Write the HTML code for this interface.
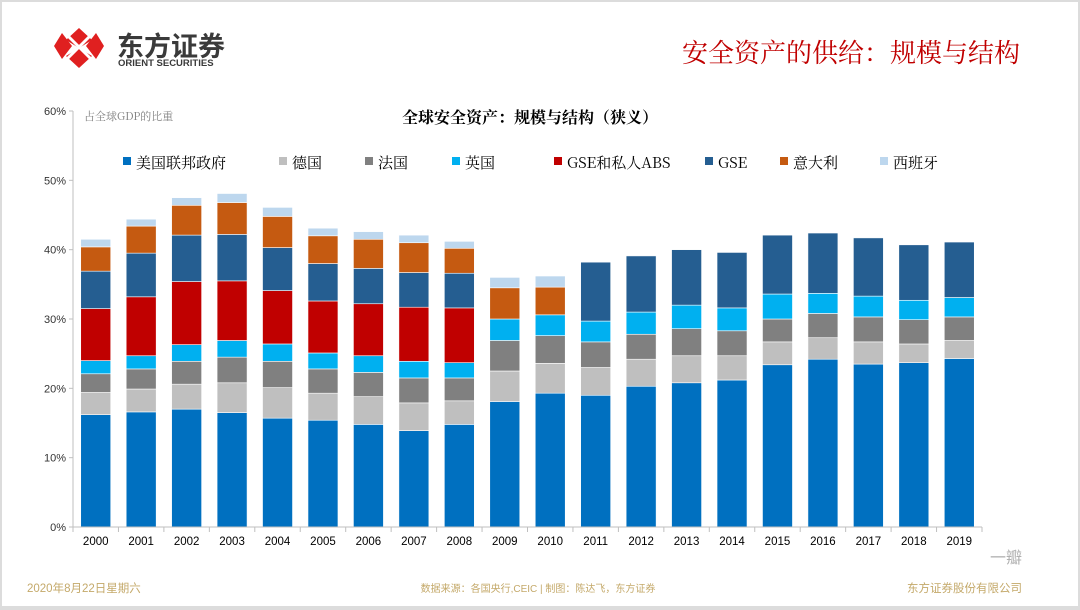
<!DOCTYPE html>
<html><head><meta charset="utf-8">
<style>
html,body{margin:0;padding:0;background:#fff;}
body{width:1080px;height:610px;position:relative;overflow:hidden;font-family:"Liberation Sans","Noto Sans CJK SC",sans-serif;}
.frame{position:absolute;left:0;top:0;width:1076px;height:604px;border:2px solid #dcdcdc;border-bottom-width:4px;}
</style></head>
<body>
<div class="frame"></div>
<svg width="1080" height="610" style="position:absolute;left:0;top:0" id="chart">
  <g>
    <polygon points="79,28 92,40 79,48 66,40" fill="#e02020"/>
    <polygon points="79,56 92,64 79,76 66,64" fill="#e02020" transform="translate(0,-8)"/>
    <polygon points="62,33 72,46 62,59 54,46" fill="#e02020"/>
    <polygon points="96,33 104,46 96,59 86,46" fill="#e02020"/>
    <line x1="66" y1="34" x2="92" y2="60" stroke="#fff" stroke-width="3"/>
    <line x1="92" y1="34" x2="66" y2="60" stroke="#fff" stroke-width="3"/>
    <text x="117" y="56" font-size="27" font-weight="bold" fill="#3a3a3a" font-family="Noto Sans CJK SC, sans-serif">东方证券</text>
    <text x="118" y="66" font-size="9.5" font-weight="bold" fill="#3a3a3a" font-family="Liberation Sans, sans-serif">ORIENT SECURITIES</text>
  </g>
  <text x="1020" y="62" text-anchor="end" font-size="26" fill="#c00000" font-family="Noto Serif CJK SC, serif">安全资产的供给：规模与结构</text>
  <text x="530" y="123" text-anchor="middle" font-size="16" font-weight="bold" fill="#000" font-family="Noto Serif CJK SC, serif">全球安全资产：规模与结构（狭义）</text>
  <text x="84" y="120" font-size="11" fill="#808080" font-family="Noto Serif CJK SC, serif">占全球GDP的比重</text>
  <g id="plot"></g>
  <g id="legend"></g>
  <text x="27" y="592" font-size="11.5" fill="#c4a96a">2020年8月22日星期六</text>
  <text x="538" y="592" text-anchor="middle" font-size="10" fill="#c4a96a">数据来源：各国央行,CEIC | 制图：陈达飞，东方证券</text>
  <text x="1022" y="592" text-anchor="end" font-size="11.5" fill="#c4a96a">东方证券股份有限公司</text>
  <text x="990" y="563" font-size="16" fill="#b0b0b0">一瓣</text>
</svg>
<script>
const years=["2000","2001","2002","2003","2004","2005","2006","2007","2008","2009","2010","2011","2012","2013","2014","2015","2016","2017","2018","2019"];
const seriesNames=["美国联邦政府","德国","法国","英国","GSE和私人ABS","GSE","意大利","西班牙"];
const usFed=[16.2,16.6,17.0,16.5,15.7,15.4,14.8,13.9,14.8,18.1,19.3,19.0,20.3,20.8,21.2,23.4,24.2,23.5,23.7,24.3];
const germany=[3.2,3.3,3.6,4.3,4.4,3.9,4.0,4.0,3.4,4.4,4.3,4.0,3.9,3.9,3.5,3.3,3.1,3.2,2.7,2.6];
const france=[2.7,2.9,3.3,3.7,3.8,3.5,3.5,3.6,3.3,4.4,4.0,3.7,3.6,3.9,3.6,3.3,3.5,3.6,3.5,3.4];
const uk=[1.9,1.9,2.4,2.4,2.5,2.3,2.4,2.4,2.2,3.1,3.0,3.0,3.2,3.4,3.3,3.6,2.9,3.0,2.8,2.8];
const gseAbs=[7.5,8.5,9.1,8.6,7.7,7.5,7.5,7.8,7.9,0,0,0,0,0,0,0,0,0,0,0];
const gse=[5.4,6.3,6.7,6.7,6.2,5.4,5.1,5.0,5.0,0,0,8.5,8.1,8.0,8.0,8.5,8.7,8.4,8.0,8.0];
const italy=[3.5,3.9,4.3,4.6,4.5,4.0,4.2,4.3,3.6,4.5,4.0,0,0,0,0,0,0,0,0,0];
const spain=[1.1,1.0,1.1,1.3,1.3,1.1,1.1,1.1,1.0,1.5,1.6,0,0,0,0,0,0,0,0,0];
const yTicks=[0,10,20,30,40,50,60];
const yTickLabels=["0%","10%","20%","30%","40%","50%","60%"];

const allSeries=[usFed,germany,france,uk,gseAbs,gse,italy,spain];
const colors=["#0070c0","#bfbfbf","#808080","#00b0f0","#c00000","#255e91","#c55a11","#bdd7ee"];
const segNames=["us-fed","germany","france","uk","gse-abs","gse","italy","spain"];
const NS="http://www.w3.org/2000/svg";
const X0=73,X1=982,Y0=527,Y60=111;
const slot=(X1-X0)/years.length;
function yScale(v){return Y0-(v/60)*(Y0-Y60);}
function xCenter(i){return X0+slot*(i+0.5);}
const plot=document.getElementById('plot');
function mk(tag,attrs,parent){const e=document.createElementNS(NS,tag);for(const k in attrs)e.setAttribute(k,attrs[k]);parent.appendChild(e);return e;}
const yAxis=mk('line',{x1:X0,y1:Y60,x2:X0,y2:Y0,stroke:'#bfbfbf','stroke-width':1},plot);


yTicks.forEach((t,i)=>{
  const y=yScale(t);
  const tk=mk('line',{x1:X0-4,y1:y,x2:X0,y2:y,stroke:'#bfbfbf'},plot);
  
  
  const tx=mk('text',{x:X0-7,y:y+4,'text-anchor':'end','font-size':11,fill:'#333'},plot);
  tx.textContent=yTickLabels[i];
  
  
});
years.forEach((yr,i)=>{
  let cum=0;const bw=30;const cx=xCenter(i);
  allSeries.forEach((s,k)=>{
    const v=s[i];if(!v)return;
    const top=yScale(cum+v),bot=yScale(cum);
    const r=mk('rect',{x:cx-bw/2,y:top,width:bw,height:bot-top,fill:colors[k],stroke:'#fff','stroke-width':0.6},plot);
    
    
    cum+=v;
  });
  const lb=mk('text',{x:cx,y:Y0+18,'text-anchor':'middle','font-size':11.5,fill:'#000'},plot);
  lb.textContent=yr;
  
  
});
const xAxis=mk('line',{x1:X0,y1:Y0,x2:X1,y2:Y0,stroke:'#bfbfbf','stroke-width':1},plot);


for(let i=0;i<=years.length;i++){
  const x=X0+slot*i;
  const tk=mk('line',{x1:x,y1:Y0,x2:x,y2:Y0+5,stroke:'#bfbfbf'},plot);
  
  
}
const legend=document.getElementById('legend');
const legX=[123,279,365,452,554,705,780,880];
seriesNames.forEach((n,k)=>{
  const g=mk('g',{},legend);
  
  
  mk('rect',{x:legX[k],y:157,width:8,height:8,fill:colors[k]},g);
  const t=mk('text',{x:legX[k]+13,y:168,'font-size':15,fill:'#000','font-family':'Noto Serif CJK SC, serif'},g);
  t.textContent=n;
});
</script>
</body></html>
